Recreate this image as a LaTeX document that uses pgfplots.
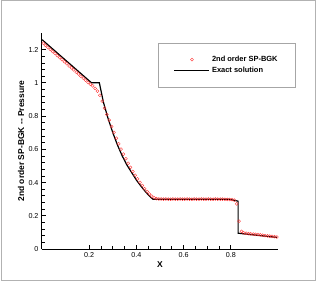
\documentclass[border=0pt]{standalone}
\usepackage{pgfplots}
\pgfplotsset{compat=1.18}
\usepackage{fontspec}
\setmainfont{Liberation Sans}
\begin{document}
\begin{tikzpicture}[x=1bp,y=1bp]
\path[use as bounding box] (0,0) rectangle (316,281);
\draw[gray!60, line width=1bp] (1,1) rectangle (315,280);
\begin{axis}[
  at={(42bp,32bp)}, anchor=south west,
  scale only axis, width=236bp, height=216bp,
  xmin=0, xmax=1, ymin=0, ymax=1.3,
  axis lines*=left,
  axis line style={line width=1bp},
  xtick={0.2,0.4,0.6,0.8},
  ytick={0,0.2,0.4,0.6,0.8,1,1.2},
  yticklabels={0,0.2,0.4,0.6,0.8,1,1.2},
  xticklabels={0.2,0.4,0.6,0.8},
  minor x tick num=3, minor y tick num=4,
  tick align=inside,
  major tick length=4bp, minor tick length=2.5bp,
  tick style={black, line width=0.7bp},
  ticklabel style={font=\fontsize{7.2}{8}\selectfont},
  /pgf/number format/assume math mode=true,
  xlabel={X}, ylabel={2nd order SP-BGK -{}- Pressure},
  label style={font=\fontsize{8.5}{10}\selectfont\bfseries},
  xlabel style={at={(axis description cs:0.5,-0.07)}, anchor=center},
  ylabel style={at={(axis description cs:-0.089,0.5)}, anchor=center},
  legend image code/.code={\draw[mark repeat=2,mark phase=2,#1] plot coordinates {(0bp,0bp)(17.5bp,0bp)(35bp,0bp)};},
  legend style={at={(axis description cs:1.076,0.954)}, anchor=north east,
    draw=gray!70, line width=0.6bp, inner xsep=16bp, inner ysep=11bp,
    font=\fontsize{7.5}{9}\selectfont\bfseries, cells={anchor=west}},
  clip=false,
]
\addplot[only marks, mark=o, mark size=1.5bp, red!85, mark options={line width=0.35bp}] coordinates {
(0.005,1.239)(0.015,1.226)(0.025,1.214)(0.035,1.202)(0.045,1.189)(0.055,1.177)(0.065,1.164)(0.075,1.152)(0.085,1.140)(0.095,1.127)
(0.105,1.115)(0.115,1.102)(0.125,1.090)(0.135,1.078)(0.145,1.065)(0.155,1.053)(0.165,1.040)(0.175,1.028)(0.185,1.016)(0.195,1.003)
(0.205,0.992)(0.215,0.982)(0.225,0.966)(0.235,0.950)(0.245,0.925)(0.255,0.890)(0.265,0.848)(0.275,0.810)(0.285,0.775)(0.295,0.737)
(0.305,0.702)(0.315,0.667)(0.325,0.633)(0.335,0.601)(0.345,0.571)(0.355,0.543)(0.365,0.516)(0.375,0.491)(0.385,0.467)(0.395,0.444)
(0.405,0.422)(0.415,0.401)(0.425,0.382)(0.435,0.363)(0.445,0.346)(0.455,0.331)(0.465,0.318)(0.475,0.308)(0.485,0.303)(0.495,0.301)
(0.505,0.301)(0.515,0.300)(0.525,0.301)(0.535,0.300)(0.545,0.300)(0.555,0.301)(0.565,0.300)(0.575,0.300)(0.585,0.301)(0.595,0.300)
(0.605,0.300)(0.615,0.301)(0.625,0.300)(0.635,0.300)(0.645,0.301)(0.655,0.300)(0.665,0.300)(0.675,0.301)(0.685,0.300)(0.695,0.300)
(0.705,0.301)(0.715,0.300)(0.725,0.300)(0.735,0.301)(0.745,0.300)(0.755,0.300)(0.765,0.300)(0.775,0.299)(0.785,0.299)(0.795,0.298)
(0.805,0.297)(0.815,0.294)(0.825,0.272)(0.835,0.168)(0.845,0.106)(0.855,0.097)(0.865,0.095)(0.875,0.093)(0.885,0.091)(0.895,0.090)
(0.905,0.088)(0.915,0.087)(0.925,0.085)(0.935,0.083)(0.945,0.081)(0.955,0.079)(0.965,0.077)(0.975,0.076)(0.985,0.074)(0.995,0.072)
};
\addlegendentry{2nd order SP-BGK}
\addplot[black, line width=1.2bp] coordinates {
(0,1.26)(0.21,1.0)(0.243,1.0)(0.26,0.885)(0.28,0.785)(0.30,0.700)(0.32,0.625)(0.34,0.560)(0.36,0.505)(0.38,0.460)
(0.40,0.415)(0.42,0.377)(0.44,0.342)(0.46,0.312)(0.47,0.300)(0.79,0.300)(0.831,0.288)(0.831,0.095)(0.995,0.070)
};
\addlegendentry{Exact solution}
\end{axis}
\end{tikzpicture}
\end{document}
